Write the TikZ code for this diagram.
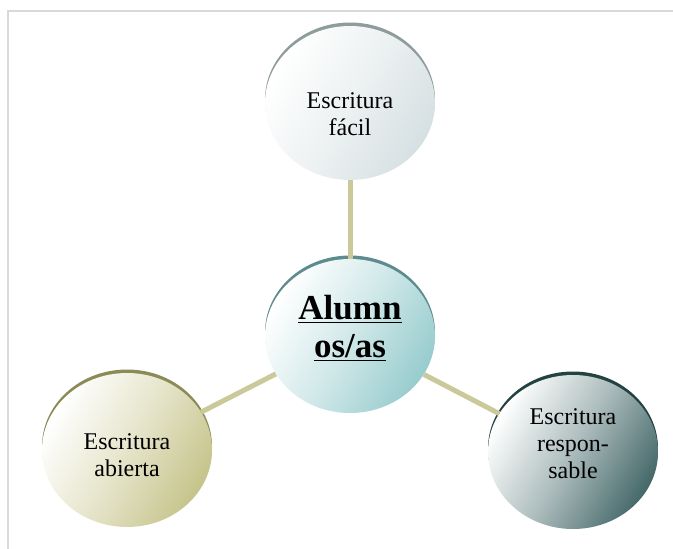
\documentclass[tikz,border=0pt]{standalone}
\usepackage{fontspec}
\setmainfont{Liberation Serif}
\usepackage{xcolor}
\usetikzlibrary{shapes.geometric}
\definecolor{frameGray}{HTML}{D9D9D9}
\definecolor{linkKhaki}{HTML}{CBC99A}
\definecolor{topFill}{HTML}{D6E0E2}
\definecolor{topRim}{HTML}{8E9C9C}
\definecolor{midFill}{HTML}{98CCCE}
\definecolor{midRim}{HTML}{5E8C8E}
\definecolor{leftFill}{HTML}{C6C48B}
\definecolor{leftRim}{HTML}{8C8B58}
\definecolor{rightFill}{HTML}{46696A}
\definecolor{rightRim}{HTML}{234343}
\tikzset{
    bubble/.style 2 args = {ellipse, minimum width=170pt, minimum height=154pt, inner sep=0pt,
        preaction={fill=#2, transform canvas={yshift=3.5pt}},
        top color=white, bottom color=#1, middle color=white!55!#1, shading angle=60},
    bubble-text/.style = {align=center, text=black, inner sep=0pt, font=\fontsize{24}{27}\selectfont},
    bubble-title/.style = {bubble-text, font=\bfseries\fontsize{35}{36}\selectfont},
    link/.style = {draw=linkKhaki, line width=5pt},
}
\begin{document}
\begin{tikzpicture}[x=1pt, y=-1pt]
\useasboundingbox (0,0) rectangle (673,549);
% frame
\draw[frameGray, line width=1.5pt] (8,549) -- (8,11) -- (673,11);
% bubbles
\node[bubble={topFill}{topRim},
      label={[bubble-text, name=easy-text, yshift=-11pt]center:Escritura\\fácil}] (easy) at (350,103) {};
\node[bubble={midFill}{midRim},
      label={[bubble-title, name=pupils-text, yshift=8pt]center:\underline{Alumn}\\[2pt]\underline{os/as}}] (pupils) at (350,336) {};
\node[bubble={leftFill}{leftRim},
      label={[bubble-text, name=open-text, yshift=-5pt]center:Escritura\\abierta}] (open) at (127,450) {};
\node[bubble={rightFill}{rightRim},
      label={[bubble-text, name=duty-text, yshift=8pt]center:Escritura\\respon-\\sable}] (duty) at (573,452) {};
% links
\draw[link] (pupils) -- (easy);
\draw[link] (pupils) -- (open);
\draw[link] (pupils) -- (duty);
\end{tikzpicture}
\end{document}
